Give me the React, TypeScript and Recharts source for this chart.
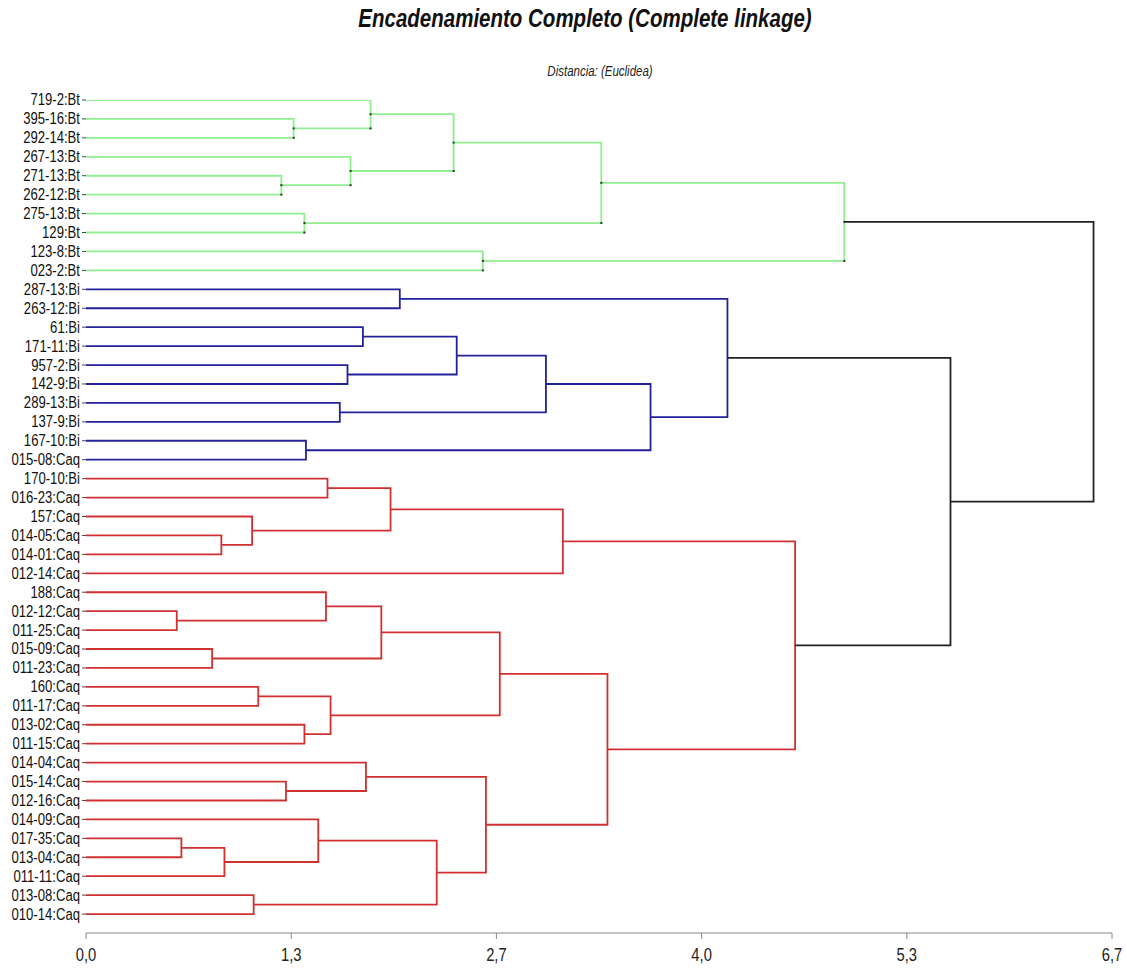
import { ComposedChart, Line, XAxis, YAxis } from "recharts";

// hojas del dendrograma, de arriba a abajo
const LEAVES = [
  "719-2:Bt", "395-16:Bt", "292-14:Bt", "267-13:Bt", "271-13:Bt",
  "262-12:Bt", "275-13:Bt", "129:Bt", "123-8:Bt", "023-2:Bt",
  "287-13:Bi", "263-12:Bi", "61:Bi", "171-11:Bi", "957-2:Bi",
  "142-9:Bi", "289-13:Bi", "137-9:Bi", "167-10:Bi", "015-08:Caq",
  "170-10:Bi", "016-23:Caq", "157:Caq", "014-05:Caq", "014-01:Caq",
  "012-14:Caq", "188:Caq", "012-12:Caq", "011-25:Caq", "015-09:Caq",
  "011-23:Caq", "160:Caq", "011-17:Caq", "013-02:Caq", "011-15:Caq",
  "014-04:Caq", "015-14:Caq", "012-16:Caq", "014-09:Caq", "017-35:Caq",
  "013-04:Caq", "011-11:Caq", "013-08:Caq", "010-14:Caq",
];

// uniones: [nodo a, nodo b, distancia, grupo]; ids >= 44 son uniones previas (44 + k)
const MERGES: [number, number, number, string][] = [
  [1, 2, 1.35, "Bt"],    // 44
  [0, 44, 1.85, "Bt"],   // 45
  [4, 5, 1.27, "Bt"],    // 46
  [3, 46, 1.72, "Bt"],   // 47
  [45, 47, 2.39, "Bt"],  // 48
  [6, 7, 1.42, "Bt"],    // 49
  [48, 49, 3.35, "Bt"],  // 50
  [8, 9, 2.58, "Bt"],    // 51
  [50, 51, 4.93, "Bt"],  // 52
  [10, 11, 2.04, "Bi"],  // 53
  [12, 13, 1.8, "Bi"],   // 54
  [14, 15, 1.7, "Bi"],   // 55
  [54, 55, 2.41, "Bi"],  // 56
  [16, 17, 1.65, "Bi"],  // 57
  [56, 57, 2.99, "Bi"],  // 58
  [18, 19, 1.43, "Bi"],  // 59
  [58, 59, 3.67, "Bi"],  // 60
  [53, 60, 4.17, "Bi"],  // 61
  [20, 21, 1.57, "Caq"], // 62
  [23, 24, 0.88, "Caq"], // 63
  [22, 63, 1.08, "Caq"], // 64
  [62, 64, 1.98, "Caq"], // 65
  [65, 25, 3.1, "Caq"],  // 66
  [27, 28, 0.59, "Caq"], // 67
  [26, 67, 1.56, "Caq"], // 68
  [29, 30, 0.82, "Caq"], // 69
  [68, 69, 1.92, "Caq"], // 70
  [31, 32, 1.12, "Caq"], // 71
  [33, 34, 1.42, "Caq"], // 72
  [71, 72, 1.59, "Caq"], // 73
  [70, 73, 2.69, "Caq"], // 74
  [36, 37, 1.3, "Caq"],  // 75
  [35, 75, 1.82, "Caq"], // 76
  [39, 40, 0.62, "Caq"], // 77
  [77, 41, 0.9, "Caq"],  // 78
  [38, 78, 1.51, "Caq"], // 79
  [42, 43, 1.09, "Caq"], // 80
  [79, 80, 2.28, "Caq"], // 81
  [76, 81, 2.6, "Caq"],  // 82
  [74, 82, 3.39, "Caq"], // 83
  [66, 83, 4.61, "Caq"], // 84
  [61, 84, 5.62, "root"],// 85
  [52, 85, 6.55, "root"],// 86
];

const X_TICKS = [0, 1.334, 2.668, 4.002, 5.336, 6.67];

const COLORS: Record<string, string> = {
  Bt: "#90ee90",
  Bi: "#22229a",
  Caq: "#d03030",
  root: "#222222",
};

const FONT = "'Liberation Sans', Arial, sans-serif";
const NARROW = 0.82; // imita Arial Narrow

type Pt = { x: number; y: number };

function buildLinks() {
  const n = LEAVES.length;
  const pos: Pt[] = LEAVES.map((_, i) => ({ x: 0, y: i }));
  return MERGES.map(([a, b, h, group]) => {
    const pa = pos[a];
    const pb = pos[b];
    const mid = (pa.y + pb.y) / 2;
    pos.push({ x: h, y: mid });
    const data = [
      { x: pa.x, y: pa.y },
      { x: h, y: pa.y },
      { x: h, y: mid },
      { x: h, y: pb.y },
      { x: pb.x, y: pb.y },
    ];
    return { data, group, id: pos.length - 1 - n };
  });
}

const LINKS = buildLinks();

const greenDot = (props: any) => {
  const { cx, cy, index, key } = props;
  if (index !== 2 && index !== 3) return <g key={key} />;
  return <rect key={key} x={cx - 1} y={cy - 1} width={2} height={2} fill="#333" />;
};

const LeafTick = (props: any) => {
  const { x, y, payload } = props;
  return (
    <text
      transform={`translate(${x},${y}) scale(${NARROW},1)`}
      textAnchor="end"
      dominantBaseline="central"
      fontFamily={FONT}
      fontSize={16}
      fill="#111"
    >
      {LEAVES[payload.value]}
    </text>
  );
};

const DistTick = (props: any) => {
  const { x, y, payload } = props;
  return (
    <text
      transform={`translate(${x},${y + 20}) scale(${NARROW},1)`}
      textAnchor="middle"
      fontFamily={FONT}
      fontSize={18}
      fill="#222"
    >
      {payload.value.toFixed(1).replace(".", ",")}
    </text>
  );
};

export default function App() {
  return (
    <div style={{ position: "absolute", left: 0, top: 0, width: 1127, height: 968, background: "#fff" }}>
      <div
        style={{
          position: "absolute",
          left: 585,
          top: 4,
          transform: `translateX(-50%) scaleX(${NARROW})`,
          whiteSpace: "nowrap",
          fontFamily: FONT,
          fontWeight: "bold",
          fontStyle: "italic",
          fontSize: 25,
          color: "#111",
        }}
      >
        Encadenamiento Completo (Complete linkage)
      </div>
      <div
        style={{
          position: "absolute",
          left: 600,
          top: 63,
          transform: `translateX(-50%) scaleX(${NARROW})`,
          whiteSpace: "nowrap",
          fontFamily: FONT,
          fontStyle: "italic",
          fontSize: 14,
          color: "#222",
        }}
      >
        Distancia: (Euclidea)
      </div>
      <ComposedChart
        width={1127}
        height={968}
        margin={{ top: 100, right: 15, bottom: 0, left: 0 }}
      >
        <XAxis
          type="number"
          dataKey="x"
          domain={[0, 6.67]}
          ticks={X_TICKS}
          stroke="#888"
          tickSize={6}
          height={35}
          tick={<DistTick />}
          allowDataOverflow
        />
        <YAxis
          type="number"
          dataKey="y"
          domain={[0, 44]}
          reversed
          ticks={LEAVES.map((_, i) => i)}
          interval={0}
          axisLine={false}
          tickSize={4}
          tickLine={{ stroke: "#444" }}
          width={86}
          tick={<LeafTick />}
          allowDataOverflow
        />
        {LINKS.map((l) => (
          <Line
            key={l.id}
            data={l.data}
            dataKey="y"
            type="linear"
            stroke={COLORS[l.group]}
            strokeWidth={1.8}
            dot={l.group === "Bt" ? greenDot : false}
            activeDot={false}
            isAnimationActive={false}
          />
        ))}
      </ComposedChart>
    </div>
  );
}
